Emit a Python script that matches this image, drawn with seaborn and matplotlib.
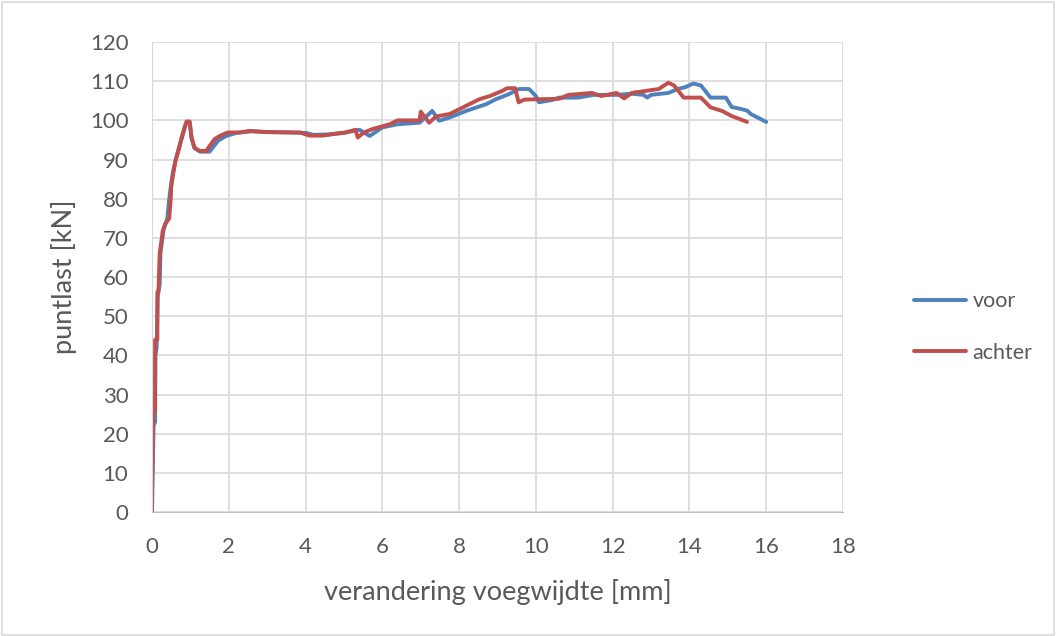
import pandas as pd
import numpy as np
import matplotlib.pyplot as plt
import seaborn as sns

# curve "voor" (blue)
voor_x = [0, 0.02, 0.04, 0.08, 0.09, 0.12, 0.15, 0.2, 0.22, 0.3, 0.4, 0.45, 0.5, 0.55,
          0.62, 0.7, 0.78, 0.85, 0.9, 0.98, 1.03, 1.1, 1.25, 1.5, 1.72, 1.93, 2.2, 2.6,
          3.0, 3.5, 4.0, 4.2, 4.6, 5.0, 5.4, 5.67, 6.0, 6.4, 6.97, 7.3, 7.48,
          7.75, 8.18, 8.7, 8.96, 9.3, 9.56, 9.82, 10.0, 10.08, 10.43, 10.6, 11.1, 11.5,
          12.1, 12.5, 12.8, 12.9, 13.0, 13.45, 13.7, 13.9, 14.1, 14.3, 14.55, 14.95, 15.1,
          15.3, 15.5, 15.6, 16.0]
voor_y = [0, 10, 22, 23, 40, 42, 55, 58, 66, 72, 75, 80, 84, 87,
          90, 93, 95.5, 98, 99.6, 99.6, 95.5, 93, 92, 92, 94.8, 96, 96.8, 97.2,
          97, 96.9, 96.8, 96.3, 96.4, 96.8, 97.6, 96, 98.2, 99, 99.4, 102.4, 99.9,
          100.7, 102.4, 104.1, 105.4, 106.7, 108, 108, 106.2, 104.6, 105.2, 105.8, 105.8, 106.5,
          106.5, 106.8, 106.5, 105.8, 106.5, 107, 108, 108.5, 109.4, 108.9, 105.8, 105.8, 103.4,
          103, 102.5, 101.6, 99.6]

# curve "achter" (red)
achter_x = [0, 0.0, 0.03, 0.08, 0.08, 0.14, 0.14, 0.17, 0.2, 0.28, 0.34, 0.45, 0.47, 0.49,
            0.5, 0.55, 0.61, 0.71, 0.77, 0.85, 0.9, 0.98, 1.03, 1.11, 1.24, 1.41, 1.63, 1.76,
            1.97, 2.28, 2.53, 3.0, 3.85, 4.1, 4.45, 4.8, 5.04, 5.3, 5.36, 5.52, 5.75, 6.19, 6.4,
            6.97, 7.0, 7.22, 7.4, 7.75, 8.18, 8.53, 8.8, 9.12, 9.25, 9.46, 9.55, 9.7, 10.6,
            10.85, 11.46, 11.7, 12.1, 12.3, 12.5, 12.85, 13.2, 13.45, 13.6, 13.85, 14.3, 14.55,
            14.85, 15.1, 15.5]
achter_y = [0, 7, 25, 26, 44, 44, 56, 57, 66, 71.8, 73.5, 75, 77.7, 80.3,
            83, 86.2, 89.6, 93, 95.6, 98.2, 99.7, 99.7, 95.6, 93, 92.2, 92.2, 95.2, 96,
            96.9, 96.9, 97.3, 97, 96.9, 96.1, 96.1, 96.6, 96.9, 97.6, 95.6, 96.9, 97.8, 99, 100,
            100, 102.2, 99.4, 101, 101.6, 103.7, 105.4, 106.2, 107.5, 108.2, 108.2, 104.6, 105.3, 105.5,
            106.5, 107, 106.2, 107, 105.6, 107, 107.5, 108, 109.6, 108.9, 105.8, 105.8, 103.3,
            102.4, 101.1, 99.6]

df = pd.concat([
    pd.DataFrame({"x": voor_x, "y": voor_y, "serie": "voor"}),
    pd.DataFrame({"x": achter_x, "y": achter_y, "serie": "achter"}),
])

sns.set_style("white")
plt.rcParams['font.family'] = ['Lato', 'DejaVu Sans']
grey = "#595959"

fig = plt.figure(figsize=(10.56, 6.36), dpi=100)
ax = fig.add_axes([152 / 1056, 1 - 512 / 636, (843 - 152) / 1056, (512 - 42) / 636])

sns.lineplot(data=df, x="x", y="y", hue="serie", sort=False, estimator=None,
             palette={"voor": "#4f81bd", "achter": "#c0504d"}, linewidth=2.8, ax=ax)

ax.set_xlim(0, 18)
ax.set_ylim(0, 120)
ax.set_xticks(np.arange(0, 19, 2))
ax.set_yticks(np.arange(0, 121, 10))
ax.grid(True, color="#d9d9d9", linewidth=1.2)
ax.set_axisbelow(True)
for s in ax.spines.values():
    s.set_visible(False)
ax.spines["left"].set_visible(True)
ax.spines["left"].set_color("#d9d9d9")
ax.spines["bottom"].set_visible(True)
ax.spines["bottom"].set_color("#bfbfbf")
ax.tick_params(length=0, labelsize=16, colors=grey)
ax.tick_params(axis="x", pad=18)
ax.tick_params(axis="y", pad=17)

ax.set_xlabel("verandering voegwijdte [mm]", fontsize=19.5, color=grey)
ax.set_ylabel("puntlast [kN]", fontsize=19.5, color=grey)
ax.xaxis.set_label_coords(0.5, -0.142)
ax.yaxis.set_label_coords(-0.108, 0.5)

ax.legend(loc="center left", bbox_to_anchor=(895 / 1056, 1 - 327 / 636),
          bbox_transform=fig.transFigure, frameon=False, fontsize=15.5,
          handlelength=2.4, labelspacing=1.45, labelcolor=grey, handletextpad=0.3)

# chart border
fig.patches.append(plt.Rectangle((0.002, 0.002), 0.996, 0.995, transform=fig.transFigure,
                                 fill=False, edgecolor="#d9d9d9", linewidth=1.2))

fig.savefig("out.png", dpi=100)
